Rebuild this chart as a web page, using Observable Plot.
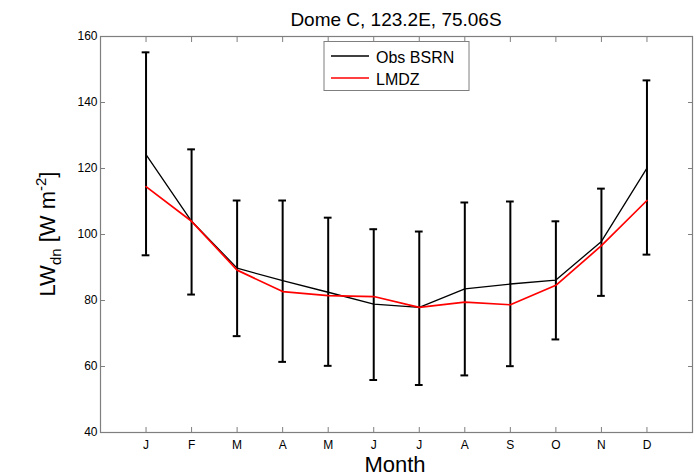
<!DOCTYPE html>
<html><head><meta charset="utf-8">
<script src="https://cdn.jsdelivr.net/npm/d3@7"></script>
<script src="https://cdn.jsdelivr.net/npm/@observablehq/plot@0.6"></script>
<style>
body{margin:0;background:#fff;}
svg{font-family:"Liberation Sans",Arial,Helvetica,sans-serif;}
</style>
</head><body><div id="chart"></div>
<script>
const monthLabels = ["J","F","M","A","M","J","J","A","S","O","N","D"];
const monthNumbers = [1,2,3,4,5,6,7,8,9,10,11,12];
const obsBSRN = [124.2, 104.0, 89.8, 86.0, 82.5, 78.9, 77.9, 83.5, 85.0, 86.2, 97.9, 120.1];
const lmdzValues = [114.5, 104.0, 89.2, 82.7, 81.5, 81.2, 77.9, 79.5, 78.7, 84.6, 96.6, 110.3];
const obsHigh = [155.2, 125.8, 110.3, 110.3, 105.1, 101.6, 100.9, 109.7, 110.0, 104.0, 113.9, 146.7];
const obsLow = [93.7, 81.8, 69.2, 61.4, 60.2, 55.9, 54.4, 57.3, 60.1, 68.2, 81.4, 93.9];
const yTicks = [40, 60, 80, 100, 120, 140, 160];
const titleText = "Dome C, 123.2E, 75.06S";
const seriesNames = ["Obs BSRN", "LMDZ"];
const seriesColors = ["#000000", "#ff0000"];

const data = monthNumbers.map((m, i) => ({
  m, label: monthLabels[i], obs: obsBSRN[i], lmdz: lmdzValues[i], hi: obsHigh[i], lo: obsLow[i]
}));
const capHalf = 0.085;
const grey = "#7f7f7f";

const svg = Plot.plot({
  width: 697, height: 476,
  marginLeft: 100, marginRight: 5, marginTop: 36, marginBottom: 44,
  x: {domain: [0, 13]},
  y: {domain: [40, 160]},
  style: {fontFamily: "Liberation Sans, Arial, sans-serif", background: "#fff", overflow: "visible"},
  marks: [
    Plot.axisX({ticks: monthNumbers, tickFormat: d => monthLabels[d - 1], tickSize: -5, tickPadding: 13, fontSize: 12, stroke: grey, color: "#000", label: null}),
    Plot.axisX({anchor: "top", ticks: monthNumbers, tickFormat: () => "", tickSize: -5, stroke: grey, label: null}),
    Plot.axisY({ticks: yTicks, tickSize: -5, tickPadding: 8, fontSize: 12, stroke: grey, label: null}),
    Plot.axisY({anchor: "right", ticks: yTicks, tickFormat: () => "", tickSize: -5, stroke: grey, label: null}),
    Plot.frame({stroke: grey, strokeWidth: 1.2}),
    Plot.ruleX(data, {x: "m", y1: "lo", y2: "hi", stroke: "#000", strokeWidth: 2}),
    Plot.ruleY(data, {y: "hi", x1: d => d.m - capHalf, x2: d => d.m + capHalf, stroke: "#000", strokeWidth: 2}),
    Plot.ruleY(data, {y: "lo", x1: d => d.m - capHalf, x2: d => d.m + capHalf, stroke: "#000", strokeWidth: 2}),
    Plot.line(data, {x: "m", y: "obs", stroke: seriesColors[0], strokeWidth: 1.3}),
    Plot.line(data, {x: "m", y: "lmdz", stroke: seriesColors[1], strokeWidth: 1.7})
  ]
});
document.getElementById("chart").appendChild(svg);

const s = d3.select(svg);
// title
s.append("text").attr("x", 396).attr("y", 26).attr("text-anchor", "middle")
  .attr("font-size", 19).attr("fill", "#000").text(titleText);
// x label
s.append("text").attr("x", 395).attr("y", 472).attr("text-anchor", "middle")
  .attr("font-size", 22).attr("fill", "#000").text("Month");
// y label
const yl = s.append("text").attr("transform", "translate(55,234) rotate(-90)")
  .attr("text-anchor", "middle").attr("font-size", 22).attr("fill", "#000");
yl.append("tspan").text("LW");
yl.append("tspan").attr("font-size", 15).attr("dy", 6).text("dn");
yl.append("tspan").attr("dy", -6).text(" [W m");
yl.append("tspan").attr("font-size", 15).attr("dy", -9).text("-2");
yl.append("tspan").attr("dy", 9).text("]");
// legend
const lg = s.append("g");
lg.append("rect").attr("x", 324).attr("y", 41.5).attr("width", 145).attr("height", 49)
  .attr("fill", "#fff").attr("stroke", grey).attr("stroke-width", 1);
seriesNames.forEach((name, i) => {
  const yy = 56 + i * 22;
  lg.append("line").attr("x1", 331).attr("x2", 369).attr("y1", yy).attr("y2", yy)
    .attr("stroke", seriesColors[i]).attr("stroke-width", i ? 1.7 : 1.3);
  lg.append("text").attr("x", 376).attr("y", yy + 6.5).attr("text-anchor", "start")
    .attr("font-size", 16).attr("fill", "#000").text(name);
});
</script>
</body></html>
